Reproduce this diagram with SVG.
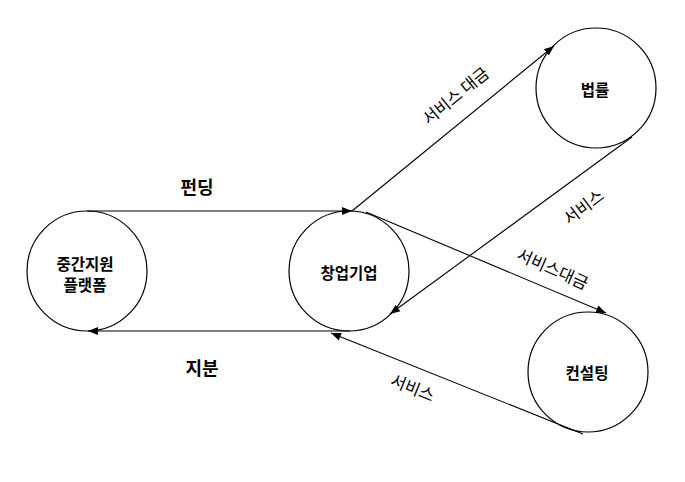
<svg xmlns="http://www.w3.org/2000/svg" width="685" height="482" viewBox="0 0 685 482">
<defs>
<marker id="ah" viewBox="0 0 10 10" refX="10" refY="5" markerWidth="10" markerHeight="10" markerUnits="userSpaceOnUse" orient="auto">
<path d="M0,1 L10,5 L0,9 z" fill="#000"/>
</marker>
<style>
.node{fill:#fff;stroke:#000;stroke-width:1.2}
.edge{fill:none;stroke:#000;stroke-width:1.1;marker-end:url(#ah)}
text{font-family:"Noto Sans CJK KR","Noto Sans",sans-serif;fill:#000;text-anchor:middle;dominant-baseline:central}
.nl{font-size:15.5px;font-weight:bold}
.el{font-size:16.5px}
.big{font-size:18px;font-weight:bold}
</style>
</defs>
<rect width="685" height="482" fill="#fff"/>
<g id="node-platform"><circle class="node" cx="87" cy="271" r="60"/><text class="nl" x="85" y="263">중간지원</text><text class="nl" x="85" y="284">플랫폼</text></g>
<g id="node-startup"><circle class="node" cx="349" cy="271" r="60"/><text class="nl" x="349" y="272">창업기업</text></g>
<g id="node-law"><circle class="node" cx="596" cy="88" r="60"/><text class="nl" x="595" y="89">법률</text></g>
<g id="node-consulting"><circle class="node" cx="588" cy="372" r="60"/><text class="nl" x="587" y="372">컨설팅</text></g>
<g id="connectors">
<line class="edge" x1="87" y1="211" x2="352" y2="211"/>
<line class="edge" x1="350" y1="331" x2="88" y2="331"/>
<line class="edge" x1="352" y1="211" x2="554" y2="46"/>
<line class="edge" x1="632" y1="137" x2="390" y2="314"/>
<line class="edge" x1="366" y1="212" x2="606" y2="313"/>
<line class="edge" x1="583" y1="434" x2="331" y2="333"/>
</g>
<g id="labels">
<text class="big" x="197" y="186">펀딩</text>
<text class="big" x="202" y="367">지분</text>
<text class="el" transform="translate(455,95) rotate(-39)">서비스 대금</text>
<text class="el" transform="translate(583,206) rotate(-37)">서비스</text>
<text class="el" transform="translate(553,268) rotate(24)">서비스대금</text>
<text class="el" transform="translate(413,387) rotate(22)">서비스</text>
</g>
</svg>
